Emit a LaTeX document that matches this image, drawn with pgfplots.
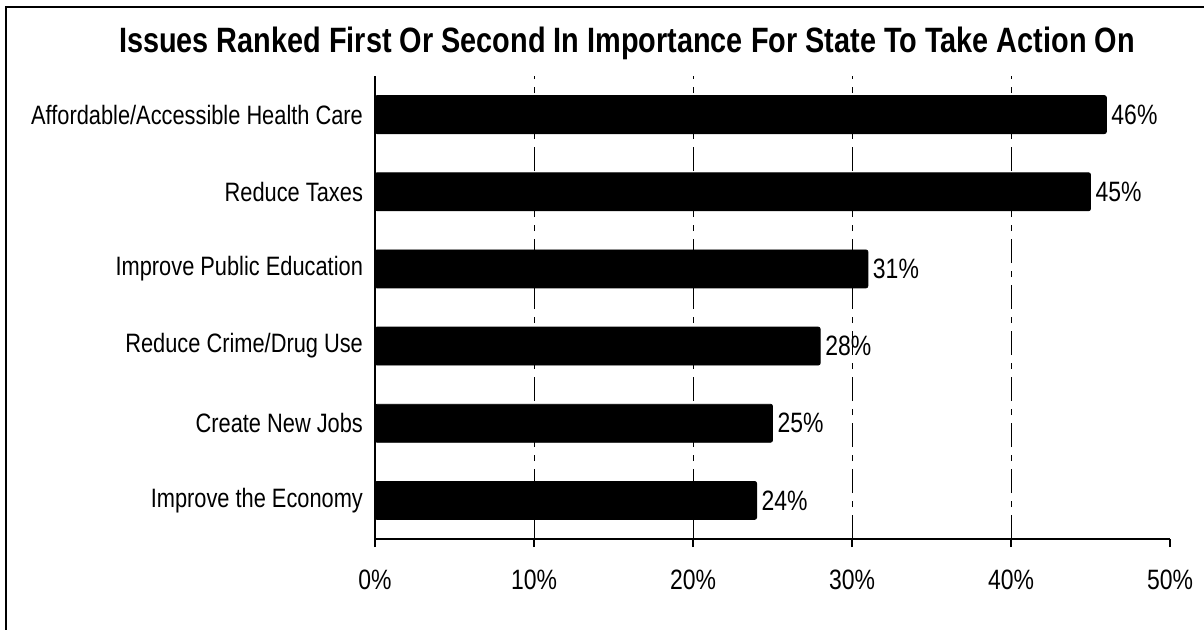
\documentclass[border=0pt]{standalone}
\usepackage{fontspec}
\setmainfont[FakeStretch=0.82]{Liberation Sans}
\usepackage{pgfplots}
\pgfplotsset{compat=1.18}

\begin{document}
\begin{tikzpicture}
% 1 px of the reference = 0.5 pt
\useasboundingbox (0pt,0pt) rectangle (602pt,314.5pt);
\draw[line width=1.1pt] (3pt,-5pt) -- (3pt,311pt) -- (610pt,311pt);
\node[font=\bfseries\fontsize{17.6}{19}\selectfont] at (313.5pt,293pt) {Issues Ranked First Or Second In Importance For State To Take Action On};

\begin{axis}[
  at={(187.5pt,45pt)}, anchor=south west,
  scale only axis,
  width=397.5pt, height=231.5pt,
  xmin=0, xmax=50,
  ymin=-0.5, ymax=5.5,
  axis x line*=bottom,
  axis y line*=left,
  axis line style={black, line width=0.6pt},
  xtick={0,10,...,50},
  xticklabel={\pgfmathprintnumber{\tick}\%},
  /pgf/number format/assume math mode=true,
  tick align=outside,
  major tick length=4pt,
  tick style={black, line width=0.6pt},
  extra x ticks={10,20,30,40},
  extra x tick labels={},
  extra x tick style={grid=major, major tick length=0pt},
  grid style={black, line width=0.5pt, dash pattern=on 12pt off 4pt on 3pt off 4pt},
  ytick={0,...,5},
  yticklabels={Improve the Economy, Create New Jobs, Reduce Crime/Drug Use, Improve Public Education, Reduce Taxes, Affordable/Accessible Health Care},
  ytick style={draw=none},
  minor ytick={-0.5,0.5,...,5.5},
  minor tick length=4pt,
  minor tick style={black, line width=0.6pt},
  ticklabel style={font=\fontsize{14}{16}\selectfont},
  yticklabel style={font=\fontsize{13.3}{15}\selectfont, xshift=1.5pt},
  xticklabel style={yshift=-8pt},
  xbar,
  bar width=19pt,
  nodes near coords={\pgfmathprintnumber{\pgfplotspointmeta}\%},
  nodes near coords style={font=\fontsize{14}{16}\selectfont, anchor=west, xshift=-1pt},
  point meta=x,
  clip=false,
]
\addplot[fill=black, draw=black, rounded corners=1pt] coordinates {
(24,0) (25,1) (28,2) (31,3) (45,4) (46,5)
};
\end{axis}
\end{tikzpicture}
\end{document}
